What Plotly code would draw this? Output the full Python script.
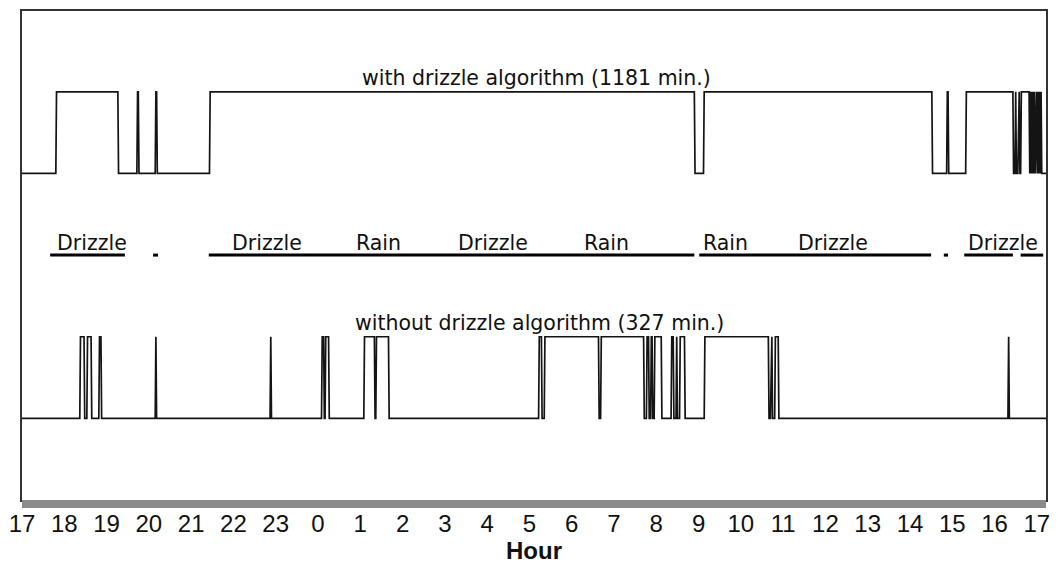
import plotly.graph_objects as go

# ---- data (minutes since 17:00) ----
hour_ticks = list(range(0, 1441, 60))
hour_labels = ["17", "18", "19", "20", "21", "22", "23", "0", "1", "2", "3", "4",
               "5", "6", "7", "8", "9", "10", "11", "12", "13", "14", "15", "16", "17"]

end_minute = 1453

# minutes at which the rain flag toggles (state starts at 0 = no rain)
with_toggles = [48, 136, 163, 165, 189, 191, 266, 954, 967, 1291, 1312, 1314, 1339, 1406,
                1409, 1410, 1413, 1415, 1417, 1429, 1430, 1431, 1432, 1433, 1434, 1435,
                1436, 1437, 1438, 1440, 1441, 1442, 1443, 1444, 1445, 1446]
without_toggles = [82, 88, 92, 98, 109, 112, 189, 190, 352, 353, 425, 428, 430, 435,
                   485, 500, 502, 520, 733, 737, 741, 818, 821, 882, 886, 889, 892, 894,
                   897, 907, 921, 924, 928, 929, 933, 940, 968, 1059, 1062, 1064, 1068,
                   1073, 1399, 1400]

with_label = "with drizzle algorithm (1181 min.)"
without_label = "without drizzle algorithm (327 min.)"

# precipitation type periods (start, end minutes)
period_starts = [40, 186, 265, 961, 1308, 1337, 1417]
period_ends = [146, 193, 954, 1290, 1314, 1406, 1449]
type_names = ["Drizzle", "Drizzle", "Rain", "Drizzle", "Rain", "Rain", "Drizzle", "Drizzle"]
type_pos = [99, 347, 506, 668, 829, 998, 1151, 1392]

# levels of the traces
with_low, with_high = 4, 5
without_low, without_high = 1, 2
period_level = 3


def step_points(toggles, low, high, end):
    xs, ys = [0], [low]
    state = 0
    for m in toggles:
        prev = high if state else low
        state = 1 - state
        new = high if state else low
        xs += [m, m + 1]
        ys += [prev, new]
    xs.append(end)
    ys.append(high if state else low)
    return xs, ys


FONT = "DejaVu Sans, Verdana, sans-serif"
AXFONT = "Liberation Sans, Arial, sans-serif"

fig = go.Figure()

wx, wy = step_points(with_toggles, with_low, with_high, end_minute)
fig.add_trace(go.Scatter(x=wx, y=wy, mode="lines", line=dict(color="#141414", width=1.7),
                         hoverinfo="skip", showlegend=False))
ox, oy = step_points(without_toggles, without_low, without_high, end_minute)
fig.add_trace(go.Scatter(x=ox, y=oy, mode="lines", line=dict(color="#141414", width=1.7),
                         hoverinfo="skip", showlegend=False))

for s, e in zip(period_starts, period_ends):
    fig.add_trace(go.Scatter(x=[s, e], y=[period_level, period_level], mode="lines",
                             line=dict(color="#000000", width=3),
                             hoverinfo="skip", showlegend=False))

font_txt = dict(family=FONT, size=20.5, color="#111111")
for name, pos in zip(type_names, type_pos):
    fig.add_annotation(x=pos, y=period_level, text=name, showarrow=False,
                       yanchor="bottom", yshift=-2, font=font_txt)

fig.add_annotation(x=730, y=with_high, text=with_label, showarrow=False,
                   yanchor="bottom", yshift=0, font=font_txt)
fig.add_annotation(x=734, y=without_high, text=without_label, showarrow=False,
                   yanchor="bottom", yshift=0, font=font_txt)

# grey bar under the plot
fig.add_shape(type="rect", xref="paper", yref="paper", x0=0, x1=1, y0=-0.0165, y1=0,
              fillcolor="#8a8a8a", line=dict(width=0), layer="above")

fig.update_layout(
    width=1054, height=557,
    margin=dict(l=12, r=16, t=1, b=65),
    paper_bgcolor="white", plot_bgcolor="white",
    xaxis=dict(range=[0, end_minute], tickvals=hour_ticks, ticktext=hour_labels,
               showgrid=False, zeroline=False, showline=True, mirror=True,
               linecolor="#333333", linewidth=1.5, ticks="",
               tickfont=dict(family=AXFONT, size=24, color="#111111"),
               ticklabelstandoff=1, ticklabeloverflow="allow",
               title=dict(text="<b>Hour</b>", standoff=0,
                          font=dict(family=AXFONT, size=24, color="#111111"))),
    yaxis=dict(range=[0, 5.99], showgrid=False, zeroline=False, showticklabels=False,
               showline=True, mirror=True, linecolor="#333333", linewidth=1.5, ticks=""),
)

fig.write_html("out.html")
